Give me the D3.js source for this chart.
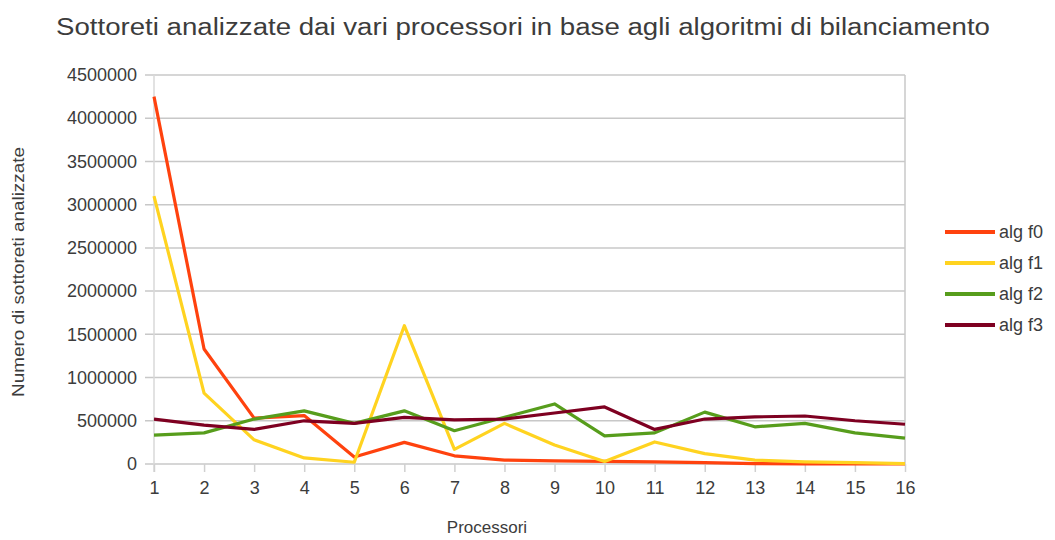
<!DOCTYPE html>
<html>
<head>
<meta charset="utf-8">
<script src="https://cdn.jsdelivr.net/npm/d3@7"></script>
<style>
  body { margin: 0; background: #fff; }
  text { font-family: "Liberation Sans", Arial, sans-serif; fill: #3c3c3c; }
</style>
</head>
<body>
<svg id="chart" width="1055" height="540"></svg>
<script>
// data
const processori = [1, 2, 3, 4, 5, 6, 7, 8, 9, 10, 11, 12, 13, 14, 15, 16];
const algF0 = [4250000, 1330000, 530000, 560000, 80000, 250000, 95000, 45000, 35000, 30000, 25000, 15000, 5000, 2000, 1000, 0];
const algF1 = [3100000, 820000, 280000, 70000, 20000, 1600000, 170000, 470000, 220000, 30000, 255000, 120000, 45000, 25000, 15000, 5000];
const algF2 = [335000, 360000, 520000, 615000, 470000, 615000, 385000, 540000, 695000, 325000, 360000, 600000, 430000, 470000, 360000, 300000];
const algF3 = [520000, 450000, 400000, 500000, 470000, 540000, 510000, 520000, 590000, 660000, 400000, 520000, 545000, 555000, 500000, 460000];
const yTicks = [0, 500000, 1000000, 1500000, 2000000, 2500000, 3000000, 3500000, 4000000, 4500000];

const series = [
  { name: "alg f0", values: algF0, color: "#ff420e" },
  { name: "alg f1", values: algF1, color: "#ffd320" },
  { name: "alg f2", values: algF2, color: "#579d1c" },
  { name: "alg f3", values: algF3, color: "#7e0021" },
];

const svg = d3.select("#chart");
const margin = { top: 75, right: 150, bottom: 76, left: 154 },
  width = 1055 - margin.left - margin.right,
  height = 540 - margin.top - margin.bottom;

const g = svg.append("g").attr("transform", `translate(${margin.left},${margin.top})`);

const x = d3.scaleLinear().domain([1, 16]).range([0, width]);
const y = d3.scaleLinear().domain([0, 4500000]).range([height, 0]);

//===== grid + frame
g.selectAll(".grid")
  .data(yTicks)
  .enter()
  .append("line")
  .attr("x1", -9)
  .attr("x2", width)
  .attr("y1", (d) => y(d))
  .attr("y2", (d) => y(d))
  .attr("stroke", "#c8c8c8")
  .attr("stroke-width", 1.5);

g.append("line").attr("x1", width).attr("x2", width).attr("y1", 0).attr("y2", height)
  .attr("stroke", "#c8c8c8").attr("stroke-width", 1.5);
g.append("line").attr("x1", 0).attr("x2", 0).attr("y1", 0).attr("y2", height + 8)
  .attr("stroke", "#d8d8d8").attr("stroke-width", 1.5);

//===== axes
const yAxis = d3.axisLeft(y).tickValues(yTicks).tickSize(0).tickPadding(17).tickFormat(d3.format("d"));
const yAxisG = g.append("g").call(yAxis);
yAxisG.select(".domain").remove();
yAxisG.selectAll("text").style("font-size", "18px").attr("fill", "#444");

const xAxis = d3.axisBottom(x).tickValues(processori).tickSize(8).tickPadding(9).tickFormat(d3.format("d"));
const xAxisG = g.append("g").attr("transform", `translate(0,${height})`).call(xAxis);
xAxisG.select(".domain").remove();
xAxisG.selectAll("line").attr("stroke", "#d0d0d0").attr("stroke-width", 1.5);
xAxisG.selectAll("text").style("font-size", "18px").attr("fill", "#444");

//===== lines
const line = d3.line()
  .x((d, i) => x(processori[i]))
  .y((d) => y(d));

g.selectAll(".serie")
  .data(series)
  .enter()
  .append("path")
  .attr("d", (d) => line(d.values))
  .attr("fill", "none")
  .attr("stroke", (d) => d.color)
  .attr("stroke-width", 3.2)
  .attr("stroke-linejoin", "round");

//===== titles
svg.append("text")
  .attr("x", 56)
  .attr("y", 35)
  .attr("textLength", 934)
  .attr("lengthAdjust", "spacingAndGlyphs")
  .style("font-size", "23px")
  .attr("fill", "#444")
  .text("Sottoreti analizzate dai vari processori in base agli algoritmi di bilanciamento");

svg.append("text")
  .attr("transform", "translate(24,272) rotate(-90)")
  .attr("text-anchor", "middle")
  .attr("textLength", 250)
  .attr("lengthAdjust", "spacingAndGlyphs")
  .style("font-size", "17px")
  .text("Numero di sottoreti analizzate");

svg.append("text")
  .attr("x", 487)
  .attr("y", 533)
  .attr("text-anchor", "middle")
  .style("font-size", "17px")
  .text("Processori");

//===== legend
const legend = svg.append("g").attr("transform", "translate(945,232)");
const items = legend.selectAll("g")
  .data(series)
  .enter()
  .append("g")
  .attr("transform", (d, i) => `translate(0,${i * 31})`);
items.append("line")
  .attr("x1", 0).attr("x2", 50)
  .attr("stroke", (d) => d.color)
  .attr("stroke-width", 4);
items.append("text")
  .attr("x", 54)
  .attr("dy", "0.35em")
  .style("font-size", "18px")
  .text((d) => d.name);
</script>
</body>
</html>
